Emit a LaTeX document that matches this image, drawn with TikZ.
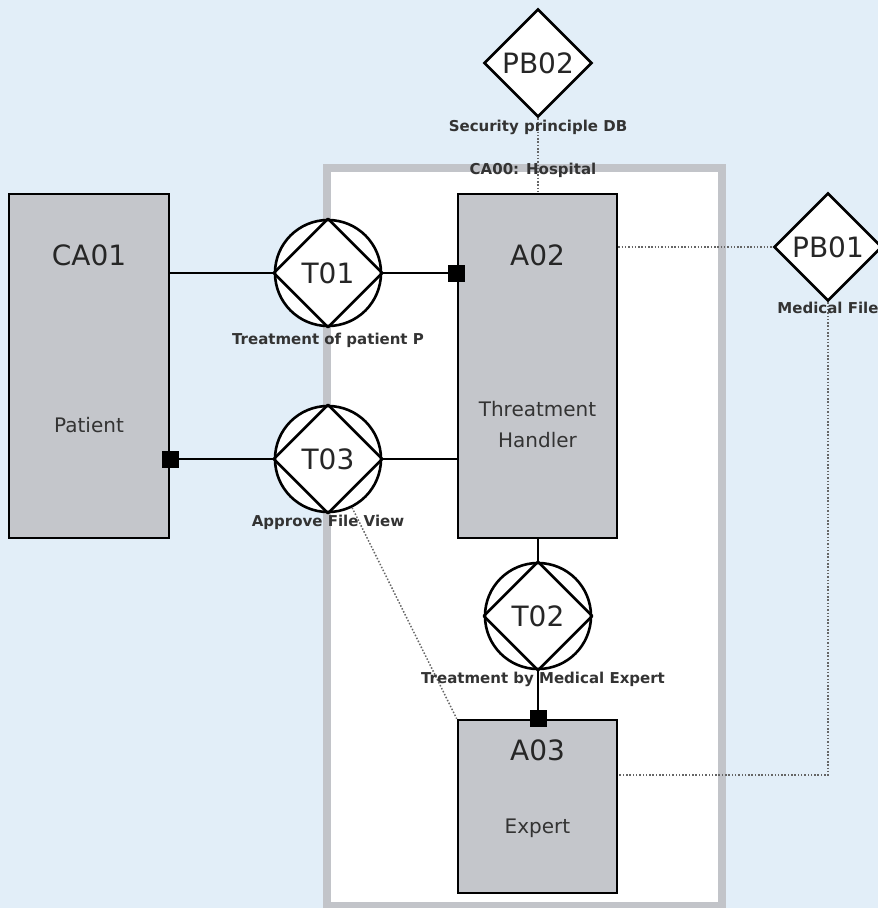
\documentclass[tikz,border=0pt]{standalone}
\usepackage{fontspec}
\setmainfont{DejaVu Sans}
\usetikzlibrary{shapes.geometric}

\definecolor{bgblue}{HTML}{E2EEF8}
\definecolor{boxgray}{HTML}{C4C6CB}
\definecolor{framegray}{HTML}{C2C4C9}

\begin{document}
\begin{tikzpicture}[
  x=1pt,
  y=-1pt,
  line cap=butt,
  line join=miter,
  frame/.style={
    rectangle,
    draw=framegray,
    fill=white,
    line width=8pt,
    inner sep=0pt,
    outer sep=0pt
  },
  actor/.style={
    rectangle,
    draw=black,
    fill=boxgray,
    line width=2.6pt,
    inner sep=0pt
  },
  transaction/.style={
    circle,
    draw=black,
    fill=white,
    minimum size=106pt,
    inner sep=0pt,
    line width=2.6pt,
    text=black!85,
    font=\fontsize{28}{30}\selectfont
  },
  principle/.style={
    diamond,
    draw=black,
    fill=white,
    minimum width=108pt,
    minimum height=108pt,
    inner sep=0pt,
    line width=2.6pt,
    text=black!85,
    font=\fontsize{28}{30}\selectfont
  },
  port/.style={rectangle,fill=black,minimum size=17pt,inner sep=0pt},
  link/.style={draw=black,line width=2.6pt},
  trace/.style={draw=black!60,line width=1.5pt,dash pattern=on 1.5pt off 1.8pt},
  idlabel/.style={text=black!85,font=\fontsize{28}{30}\selectfont},
  desclabel/.style={text=black!80,font=\fontsize{20}{31}\selectfont,align=center},
  captionlabel/.style={text=black!80,font=\fontsize{15}{17}\selectfont\bfseries,inner sep=1pt}
]

\fill[bgblue] (0,0) rectangle (878,908);
\useasboundingbox (0,0) rectangle (878,908);

% organisation frame
\node[frame,minimum width=395pt,minimum height=738pt] (CA00) at (524.5,537) {};

% actors
\node[actor,minimum width=160pt,minimum height=344pt] (CA01) at (89,366) {};
\node[actor,minimum width=159pt,minimum height=344pt] (A02) at (537.5,366) {};
\node[actor,minimum width=159pt,minimum height=173pt] (A03) at (537.5,806.5) {};

\node[idlabel] (CA01id) at (89,255) {CA01};
\node[desclabel] (CA01txt) at (89,425) {Patient};
\node[idlabel] (A02id) at (537.5,255) {A02};
\node[desclabel] (A02txt) at (537.5,425) {Threatment\\Handler};
\node[idlabel] (A03id) at (537.5,750) {A03};
\node[desclabel] (A03txt) at (537.5,828) {Expert};

% transactions and information banks
\node[transaction] (T01) at (328,273) {T01};
\node[transaction] (T03) at (328,459) {T03};
\node[transaction] (T02) at (538,616) {T02};
\foreach \t in {T01,T02,T03}
  \draw[line width=2.6pt,line join=round] (\t.north) -- (\t.east) -- (\t.south) -- (\t.west) -- cycle;

\node[principle] (PB02) at (538,63) {PB02};
\node[principle] (PB01) at (828,247) {PB01};

% executor ports
\node[port] (pA02) at (A02.west |- T01.east) {};
\node[port] (pCA01) at (CA01.east |- T03.west) {};
\node[port] (pA03) at (A03.north -| T02.south) {};

% links
\draw[link] (CA01.east |- T01.west) -- (T01.west);
\draw[link] (T01.east) -- (pA02);
\draw[link] (pCA01) -- (T03.west);
\draw[link] (T03.east) -- (A02.west |- T03.east);
\draw[link] (A02.south -| T02.north) -- (T02.north);
\draw[link] (T02.south) -- (pA03);

% information access
\draw[trace] (PB02.south) -- (A02.north -| PB02.south);
\draw[trace] (A02.east |- PB01.west) -- (PB01.west);
\draw[trace] (PB01.south) |- ([yshift=31.5pt]A03.east);
\draw[trace] (T03) -- (A03.north west);

% captions
\node[captionlabel] (CA00lbl) at (533,170) {CA00: Hospital};
\node[captionlabel] (T01lbl) at (328,340) {Treatment of patient P};
\node[captionlabel] (T03lbl) at (328,522) {Approve File View};
\node[captionlabel] (T02lbl) at (543,679) {Treatment by Medical Expert};
\node[captionlabel] (PB02lbl) at (538,127) {Security principle DB};
\node[captionlabel] (PB01lbl) at (828,308) {Medical File};

\end{tikzpicture}
\end{document}
